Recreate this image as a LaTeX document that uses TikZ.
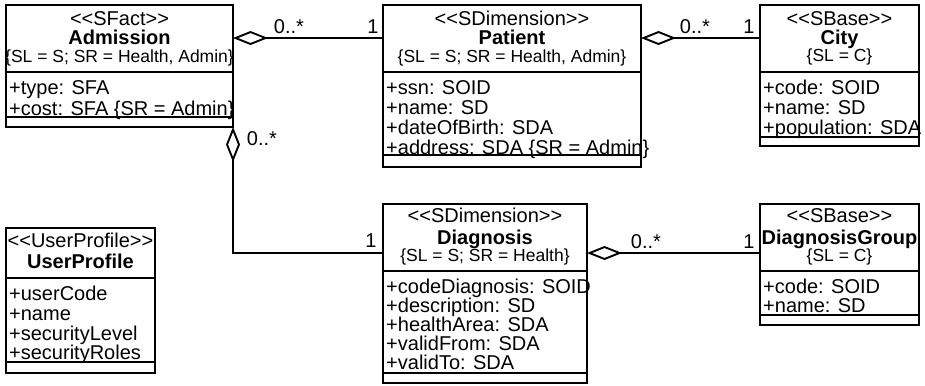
\documentclass[tikz,border=0pt]{standalone}
\usepackage{fontspec}
\setmainfont{Liberation Sans}
\usetikzlibrary{arrows.meta}
\newcommand{\umlfont}{\fontsize{20bp}{20bp}\selectfont}
\newcommand{\umlsmall}{\fontsize{17.5bp}{17.5bp}\selectfont}

\begin{document}
\begin{tikzpicture}[x=1bp,y=-1bp,
  umlbox/.style={draw, line width=1.9bp, inner sep=0pt, outer sep=0pt, anchor=north west},
  divider/.style={line width=1.9bp},
  stereo/.style={anchor=base, inner sep=0pt, font=\umlfont},
  cname/.style={anchor=base, inner sep=0pt, font=\umlfont\bfseries},
  constr/.style={anchor=base, inner sep=0pt, font=\umlsmall},
  attr/.style={anchor=base west, inner sep=0pt, font=\umlfont},
  mult/.style={anchor=base, inner sep=0pt, font=\umlfont},
  assoc/.style={line width=1.9bp, {Diamond[open,length=35bp,width=14bp]}-}
]
\useasboundingbox (0,0) rectangle (925,385);

% ---------- class frames ----------
\node[umlbox, minimum width=227bp, minimum height=122bp] (admission) at (6,5) {};
\node[umlbox, minimum width=258bp, minimum height=162bp] (patient) at (383,5) {};
\node[umlbox, minimum width=159bp, minimum height=141bp] (city) at (760,5) {};
\node[umlbox, minimum width=149bp, minimum height=145bp] (userprofile) at (6,228) {};
\node[umlbox, minimum width=204bp, minimum height=179bp] (diagnosis) at (383,204) {};
\node[umlbox, minimum width=159bp, minimum height=121bp] (diaggroup) at (760,204) {};

% ---------- compartment dividers ----------
\draw[divider] (admission.west |- 0,72) -- (admission.east |- 0,72);
\draw[divider] (admission.west |- 0,117) -- (admission.east |- 0,117);
\draw[divider] (patient.west |- 0,72) -- (patient.east |- 0,72);
\draw[divider] (patient.west |- 0,155) -- (patient.east |- 0,155);
\draw[divider] (city.west |- 0,72) -- (city.east |- 0,72);
\draw[divider] (city.west |- 0,137) -- (city.east |- 0,137);
\draw[divider] (userprofile.west |- 0,278) -- (userprofile.east |- 0,278);
\draw[divider] (userprofile.west |- 0,362) -- (userprofile.east |- 0,362);
\draw[divider] (diagnosis.west |- 0,271) -- (diagnosis.east |- 0,271);
\draw[divider] (diagnosis.west |- 0,373) -- (diagnosis.east |- 0,373);
\draw[divider] (diaggroup.west |- 0,271) -- (diaggroup.east |- 0,271);
\draw[divider] (diaggroup.west |- 0,315) -- (diaggroup.east |- 0,315);

% ---------- Admission ----------
\node[stereo] (adm-st) at (119.5,25) {{<}{<}SFact{>}{>}};
\node[cname]  (adm-nm) at (119.5,44) {Admission};
\node[constr] (adm-cs) at (119.5,62) {\{SL = S; SR = Health, Admin\}};
\node[attr] (adm-a1) at (9,94)  {+type: SFA};
\node[attr] (adm-a2) at (9,115) {+cost: SFA \{SR = Admin\}};

% ---------- Patient ----------
\node[stereo] (pat-st) at (512,25) {{<}{<}SDimension{>}{>}};
\node[cname]  (pat-nm) at (512,44) {Patient};
\node[constr] (pat-cs) at (512,62) {\{SL = S; SR = Health, Admin\}};
\node[attr] (pat-a1) at (386,94)  {+ssn: SOID};
\node[attr] (pat-a2) at (386,114) {+name: SD};
\node[attr] (pat-a3) at (386,134) {+dateOfBirth: SDA};
\node[attr] (pat-a4) at (386,154) {+address: SDA \{SR = Admin\}};

% ---------- City ----------
\node[stereo] (city-st) at (839.5,25) {{<}{<}SBase{>}{>}};
\node[cname]  (city-nm) at (839.5,44) {City};
\node[constr] (city-cs) at (839.5,61) {\{SL = C\}};
\node[attr] (city-a1) at (763,94)  {+code: SOID};
\node[attr] (city-a2) at (763,114) {+name: SD};
\node[attr] (city-a3) at (763,134) {+population: SDA};

% ---------- UserProfile ----------
\node[stereo] (up-st) at (80.5,247) {{<}{<}UserProfile{>}{>}};
\node[cname]  (up-nm) at (80.5,268) {UserProfile};
\node[attr] (up-a1) at (9,300) {+userCode};
\node[attr] (up-a2) at (9,320) {+name};
\node[attr] (up-a3) at (9,340) {+securityLevel};
\node[attr] (up-a4) at (9,359) {+securityRoles};

% ---------- Diagnosis ----------
\node[stereo] (dg-st) at (485,222) {{<}{<}SDimension{>}{>}};
\node[cname]  (dg-nm) at (485,244) {Diagnosis};
\node[constr] (dg-cs) at (485,261) {\{SL = S; SR = Health\}};
\node[attr] (dg-a1) at (386,293) {+codeDiagnosis: SOID};
\node[attr] (dg-a2) at (386,312) {+description: SD};
\node[attr] (dg-a3) at (386,331) {+healthArea: SDA};
\node[attr] (dg-a4) at (386,350) {+validFrom: SDA};
\node[attr] (dg-a5) at (386,369) {+validTo: SDA};

% ---------- DiagnosisGroup ----------
\node[stereo] (dgg-st) at (839.5,222) {{<}{<}SBase{>}{>}};
\node[cname]  (dgg-nm) at (839.5,244) {DiagnosisGroup};
\node[constr] (dgg-cs) at (839.5,261) {\{SL = C\}};
\node[attr] (dgg-a1) at (763,293) {+code: SOID};
\node[attr] (dgg-a2) at (763,312) {+name: SD};

% ---------- aggregations ----------
\draw[assoc] (admission.east |- 0,38) -- (patient.west |- 0,38);
\draw[assoc] (patient.east |- 0,38) -- (city.west |- 0,38);
\draw[assoc] (admission.south east) -- (admission.south east |- 0,253) -- (diagnosis.west |- 0,253);
\draw[assoc] (diagnosis.east |- 0,253) -- (diaggroup.west |- 0,253);

% ---------- multiplicities ----------
\node[mult] (m-ap-many) at (289,33) {0..*};
\node[mult] (m-ap-one)  at (373,33) {1};
\node[mult] (m-pc-many) at (695,33) {0..*};
\node[mult] (m-pc-one)  at (749,33) {1};
\node[mult] (m-ad-many) at (262,145) {0..*};
\node[mult] (m-ad-one)  at (371,247) {1};
\node[mult] (m-dg-many) at (646,248) {0..*};
\node[mult] (m-dg-one)  at (749,248) {1};
\end{tikzpicture}
\end{document}
